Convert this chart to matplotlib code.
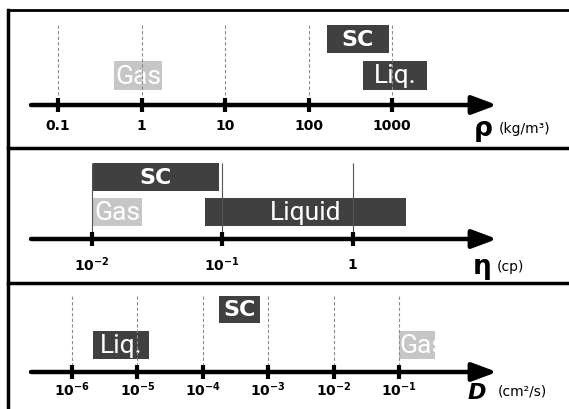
import numpy as np
import matplotlib
matplotlib.use('Agg')
import matplotlib.pyplot as plt
import matplotlib.transforms as mtransforms

W, H = 569, 409

# density panel (kg/m3)
rho_ticks = [0.1, 1, 10, 100, 1000]
rho_labels = ['0.1', '1', '10', '100', '1000']
rho_gas = (0.47, 1.78)
rho_sc = (167, 920)
rho_liq = (450, 2625)

# viscosity panel (cp)
eta_ticks = [0.01, 0.1, 1]
eta_labels = [r'$\mathbf{10^{-2}}$', r'$\mathbf{10^{-1}}$', '1']
eta_sc = (0.0101, 0.0944)
eta_gas = (0.0101, 0.024)
eta_liq = (0.0738, 2.58)

# diffusivity panel (cm2/s)
d_ticks = [1e-6, 1e-5, 1e-4, 1e-3, 1e-2, 1e-1]
d_labels = [r'$\mathbf{10^{-6}}$', r'$\mathbf{10^{-5}}$', r'$\mathbf{10^{-4}}$',
            r'$\mathbf{10^{-3}}$', r'$\mathbf{10^{-2}}$', r'$\mathbf{10^{-1}}$']
d_sc = (1.77e-4, 7.5e-4)
d_liq = (2.1e-6, 1.5e-5)
d_gas = (0.1, 0.355)

DARK = '#404040'
LIGHT = '#c6c6c6'
NARROW = ['Roboto', 'DejaVu Sans']

fig = plt.figure(figsize=(W / 100, H / 100), dpi=100)
fig.patch.set_facecolor('white')


def box(ax, rng, y, h, color, label, size, bold=False, align='center'):
    bars = ax.barh(y, rng[1] - rng[0], left=rng[0], height=h, color=color, zorder=2)
    if align == 'center':
        x = np.sqrt(rng[0] * rng[1])
    else:
        x = rng[0]
    if bold:
        t = ax.text(x, y + 1, label, ha=align, va='center', color='white',
                    fontsize=size, fontweight='bold', zorder=3)
    else:
        t = ax.text(x, y + 1, label, ha=align, va='center', color='white',
                    fontsize=size, family=NARROW, zorder=3)
    t.set_clip_path(bars.patches[0])


def panel(top, bottom, ticks, labels, first_px, dec_px, axis_y, grid_top, grid_ls, grid_col,
          label_y):
    ax = fig.add_axes([0, 1 - bottom / H, 1, (bottom - top) / H])
    ax.set_xscale('log')
    e0 = np.log10(ticks[0])
    ax.set_xlim(10 ** (e0 - first_px / dec_px), 10 ** (e0 + (W - first_px) / dec_px))
    ax.set_ylim(bottom, top)
    ax.axis('off')
    # gridlines
    ax.vlines(ticks, grid_top, axis_y, colors=grid_col, linewidth=0.8,
              linestyles=grid_ls, zorder=4)
    # axis arrow
    ax.annotate('', xy=(497 / W, axis_y), xytext=(31 / W, axis_y),
                xycoords=('axes fraction', 'data'), textcoords=('axes fraction', 'data'),
                arrowprops=dict(arrowstyle='-|>,head_length=0.75,head_width=0.28',
                                lw=3.2, color='black', shrinkA=0, shrinkB=0,
                                mutation_scale=20), zorder=5)
    ax.vlines(ticks, axis_y - 7, axis_y + 7, colors='black', linewidth=3, zorder=6)
    for t, lab in zip(ticks, labels):
        ax.text(t, label_y, lab, ha='center', va='center', fontsize=10,
                fontweight='bold')
    return ax


ax1 = panel(10, 148, rho_ticks, rho_labels, 58, 83.5, 105, 25, (0, (3, 2)), '#8c8c8c', 126)
box(ax1, rho_gas, 75.5, 29, LIGHT, 'Gas', 19)
box(ax1, rho_sc, 39, 28, DARK, 'SC', 16, bold=True)
box(ax1, rho_liq, 75.5, 29, DARK, 'Liq.', 19)
tr1 = mtransforms.blended_transform_factory(ax1.transAxes, ax1.transData)
ax1.text(474 / W, 129, 'ρ', transform=tr1, fontsize=19, fontweight='bold', va='center')
ax1.text(499 / W, 129, '(kg/m³)', transform=tr1, fontsize=10, va='center')

ax2 = panel(148, 283, eta_ticks, eta_labels, 92, 130.25, 239, 163, 'solid', '#555555', 265)
box(ax2, eta_sc, 177, 28, DARK, 'SC', 16, bold=True)
box(ax2, eta_gas, 212, 28, LIGHT, 'Gas', 19)
box(ax2, eta_liq, 212, 28, DARK, 'Liquid', 19)
tr2 = mtransforms.blended_transform_factory(ax2.transAxes, ax2.transData)
ax2.text(473 / W, 267, 'η', transform=tr2, fontsize=19, fontweight='bold', va='center')
ax2.text(497 / W, 267, '(cp)', transform=tr2, fontsize=10, va='center')

ax3 = panel(283, 409, d_ticks, d_labels, 72, 65.4, 372, 296, (0, (3, 2)), '#8c8c8c', 390)
box(ax3, d_sc, 309.5, 27, DARK, 'SC', 16, bold=True)
box(ax3, d_liq, 345, 28, DARK, 'Liq.', 19)
box(ax3, d_gas, 345, 28, LIGHT, 'Gas', 19, align='left')
tr3 = mtransforms.blended_transform_factory(ax3.transAxes, ax3.transData)
ax3.text(468 / W, 393, 'D', transform=tr3, fontsize=16, fontweight='bold',
         style='italic', va='center')
ax3.text(498 / W, 392, '(cm²/s)', transform=tr3, fontsize=10, va='center')

# panel frames
frame = fig.add_axes([0, 0, 1, 1], facecolor='none')
frame.set_xlim(0, W)
frame.set_ylim(H, 0)
frame.axis('off')
frame.plot([8, W], [10, 10], color='black', lw=2)
frame.plot([8, 8], [10, H], color='black', lw=2.5)
frame.plot([8, W], [148, 148], color='black', lw=2.5)
frame.plot([8, W], [283, 283], color='black', lw=2.5)

fig.savefig('out.png', dpi=100)
